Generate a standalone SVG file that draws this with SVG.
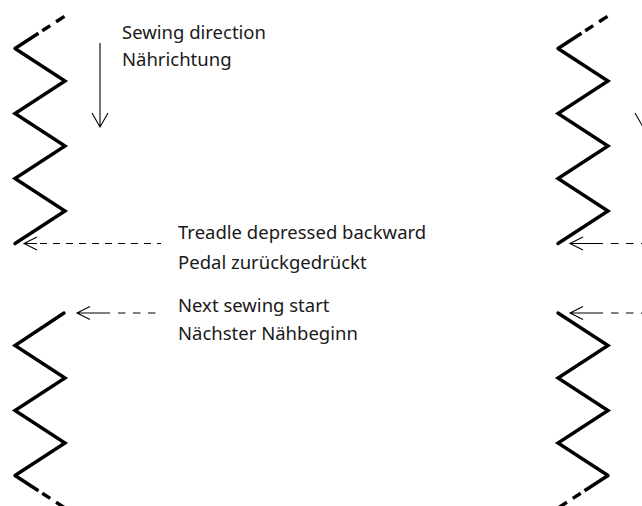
<svg xmlns="http://www.w3.org/2000/svg" width="642" height="506" viewBox="0 0 642 506">
<style>
.zz{fill:none;stroke:#000;stroke-width:3.4;stroke-linejoin:miter;stroke-linecap:round}
.zd{fill:none;stroke:#000;stroke-width:3.4;stroke-linecap:butt;stroke-dasharray:28 4.5 9.5 7 10 40}
.ar{fill:none;stroke:#000;stroke-width:1.1}
.dash{fill:none;stroke:#000;stroke-width:1.1;stroke-dasharray:7.5 7.5}
.lbl{font-family:"Noto Sans","DejaVu Sans",sans-serif;font-size:18.5px;fill:#1a1a1a}
</style>
<g id="stitch-left-top">
<path class="zz" d="M15,48.5 L65,81 L15,113.5 L65,146 L15,178.5 L65,211 L15,243.5"/>
<path class="zd" d="M15,48.5 L65,16"/>
</g>
<g id="stitch-left-bottom">
<path class="zz" d="M64,313 L15,345.5 L65,378 L15,410.5 L65,443 L15,475.5"/>
<path class="zd" d="M15,475.5 L65,508"/>
</g>
<g id="stitch-right-top">
<path class="zz" d="M558,48.5 L608,81 L558,113.5 L608,146 L558,178.5 L608,211 L558,243.5"/>
<path class="zd" d="M558,48.5 L608,16"/>
</g>
<g id="stitch-right-bottom">
<path class="zz" d="M558,313 L608,345.5 L558,378 L608,410.5 L558,443 L608,475.5"/>
<path class="zd" d="M608,475.5 L558,508"/>
</g>
<g id="connectors">
<path class="ar" d="M100,43 V127 M92,113 L100,127 L108,113"/>
<path class="ar" d="M643,43 V127 M635,113 L643,127 L651,113"/>
<path class="ar" d="M37,237 L24,243.5 L37,250 M24,243.5 H37"/>
<path class="dash" d="M40,243.5 H161" style="stroke-dasharray:7 6"/>
<path class="ar" d="M90,306.5 L77,313 L90,319.5 M77,313 H110"/>
<path class="dash" d="M118,313 H158"/>
<path class="ar" d="M583,237 L570,243.5 L583,250 M570,243.5 H603"/>
<path class="dash" d="M611,243.5 H650"/>
<path class="ar" d="M583,306.5 L570,313 L583,319.5 M570,313 H603"/>
<path class="dash" d="M611,313 H650"/>
</g>
<g id="label-direction">
<text class="lbl" x="122" y="38.5">Sewing direction</text>
<text class="lbl" x="122" y="65.5">Nährichtung</text>
</g>
<g id="label-treadle">
<text class="lbl" x="178" y="238.5">Treadle depressed backward</text>
<text class="lbl" x="178" y="268.5">Pedal zurückgedrückt</text>
</g>
<g id="label-next">
<text class="lbl" x="178" y="311.5">Next sewing start</text>
<text class="lbl" x="178" y="340">Nächster Nähbeginn</text>
</g>
</svg>
